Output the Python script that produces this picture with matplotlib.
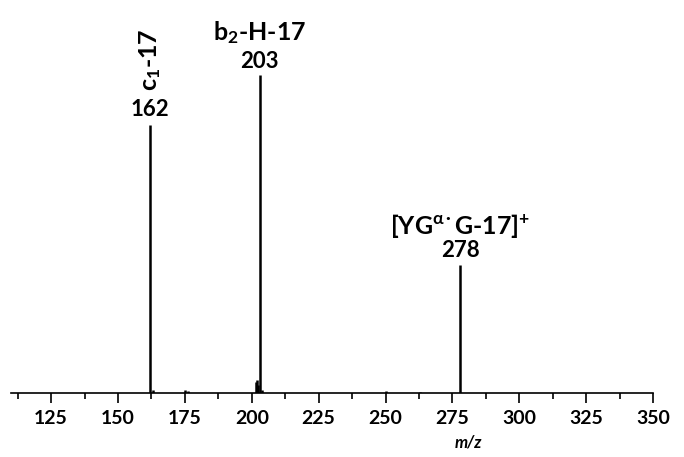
import matplotlib
matplotlib.use("Agg")
import matplotlib.pyplot as plt
from matplotlib.ticker import MultipleLocator

mz = [162, 163, 175, 176, 201.5, 202, 202.5, 203, 204, 250, 263, 278]
inten = [84.3, 0.8, 1.0, 0.5, 3.5, 4.0, 2.5, 100, 0.8, 0.5, 0.3, 40.3]
ticks = [125, 150, 175, 200, 225, 250, 275, 300, 325, 350]

plt.rcParams['font.family'] = ['Lato', 'DejaVu Sans']
plt.rcParams['mathtext.fontset'] = 'custom'
plt.rcParams['mathtext.rm'] = 'Lato:bold'
plt.rcParams['mathtext.it'] = 'Lato:bold'
plt.rcParams['mathtext.bf'] = 'Lato:bold'
fig = plt.figure(figsize=(6.84, 4.57), dpi=100)
ax = fig.add_axes([11/684, 64/457, 642/684, 393/457])
ax.vlines(mz, 0, inten, color='black', lw=1.8)
ax.set_xlim(110, 350)
ax.set_ylim(0, 123.6)
for s in ['top', 'right', 'left']:
    ax.spines[s].set_visible(False)
ax.spines['bottom'].set_linewidth(1.2)
ax.set_yticks([])
ax.set_xticks(ticks)
ax.xaxis.set_minor_locator(MultipleLocator(12.5))
ax.tick_params(axis='x', which='major', direction='out', length=7, width=1.2, labelsize=14, pad=5)
ax.tick_params(axis='x', which='minor', direction='out', length=4, width=1.2)
for t in ax.get_xticklabels():
    t.set_fontweight('bold')
ax.set_xlabel('m/z', fontstyle='italic', fontweight='bold', fontsize=12, labelpad=1)
ax.xaxis.set_label_coords(457/642, -0.105)

kw = dict(fontweight='bold', fontsize=16, ha='center')
ax.text(162, 86, '162', va='bottom', **kw)
ax.text(162, 95, 'c$_{1}$-17', rotation=90, va='bottom', fontweight='bold', fontsize=18, ha='center')
ax.text(203, 101, '203', va='bottom', **kw)
ax.text(203, 109, 'b$_{2}$-H-17', va='bottom', fontweight='bold', fontsize=18, ha='center')
ax.text(278, 41.5, '278', va='bottom', **kw)
ax.text(278, 48, '[YG$^{\\alpha\\bullet}$G-17]$^{+}$', va='bottom', fontweight='bold', fontsize=18, ha='center')
fig.savefig('out.png', dpi=100)
